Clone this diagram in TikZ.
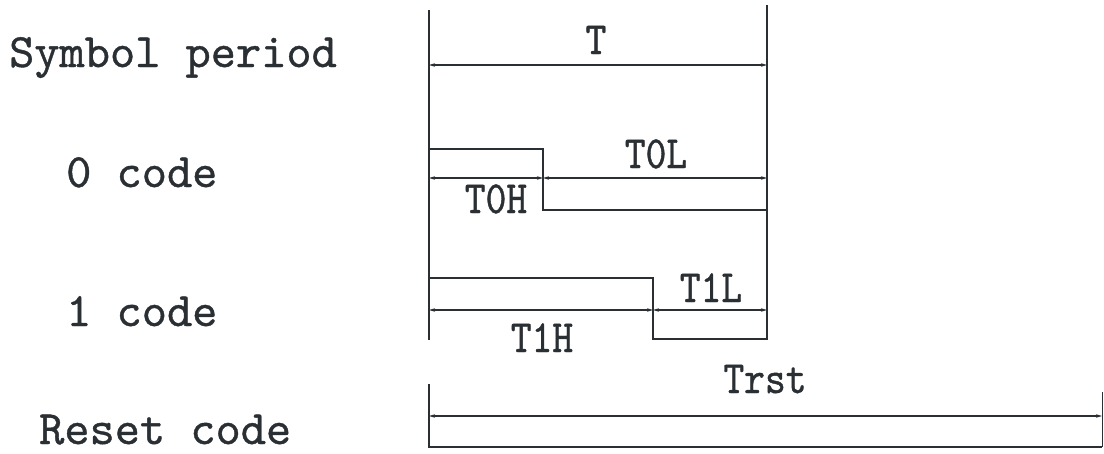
\documentclass[tikz,border=0pt]{standalone}
\usepackage{fontspec}
\usetikzlibrary{arrows.meta}
\definecolor{ink}{HTML}{2A2F34}
\font\rowfnt="[lmmono10-regular.otf]:embolden=0.8" at 48pt
\font\dimfnt="[lmmono10-regular.otf]:embolden=0.9" at 46pt
\tikzset{
  wave/.style={draw=ink, line width=1.9pt},
  dim/.style={draw=ink, line width=1.6pt, {Stealth[length=6pt,width=3.5pt]}-{Stealth[length=6pt,width=3.5pt]}},
  rowlabel/.style={inner sep=0pt, anchor=base west, text=ink, font=\rowfnt},
  dimlabel/.style={inner sep=0pt, anchor=base, text=ink, font=\dimfnt}
}
\newcommand{\cond}[1]{\scalebox{0.86}[1]{#1}}
\begin{document}
\begin{tikzpicture}[x=1pt,y=-1pt]
\useasboundingbox (0,0) rectangle (1104,453);
% coordinates
\coordinate (Ltop) at (429,10);
\coordinate (Lbot) at (429,340);
\coordinate (Rtop) at (767,5);
\coordinate (Rbot) at (767,340);
\coordinate (TdA) at (429,65);
\coordinate (TdB) at (767,65);
% 0 code
\coordinate (z0) at (429,149);
\coordinate (z1) at (543,149);
\coordinate (z2) at (543,210);
\coordinate (z3) at (767,210);
\coordinate (zdA) at (429,178);
\coordinate (zdM) at (543,178);
\coordinate (zdB) at (767,178);
% 1 code
\coordinate (o0) at (429,278);
\coordinate (o1) at (653,278);
\coordinate (o2) at (653,339);
\coordinate (o3) at (767,339);
\coordinate (odA) at (429,310);
\coordinate (odM) at (653,310);
\coordinate (odB) at (767,310);
% reset
\coordinate (r0) at (429,384);
\coordinate (r1) at (429,447);
\coordinate (r2) at (1102,447);
\coordinate (r3) at (1102,392);
\coordinate (rdA) at (429,416);
\coordinate (rdB) at (1102,416);

% row labels
\node[rowlabel] (lsym) at (9,67) {Symbol period};
\node[rowlabel] (lzero) at (66,187) {0 code};
\node[rowlabel] (lone) at (66,326) {1 code};
\node[rowlabel] (lrst) at (39,444) {Reset code};

% frame
\draw[wave] (Ltop) -- (Lbot);
\draw[wave] (Rtop) -- (Rbot);
\draw[dim] (TdA) -- (TdB);
\node[dimlabel] (lT) at (596,54) {\cond{T}};

% 0 code
\draw[wave] (z0) -- (z1) -- (z2) -- (z3);
\draw[dim] (zdA) -- (zdM);
\draw[dim] (zdM) -- (zdB);
\node[dimlabel] (lT0L) at (656,168) {\cond{T0L}};
\node[dimlabel] (lT0H) at (496,213) {\cond{T0H}};

% 1 code
\draw[wave] (o0) -- (o1) -- (o2) -- (o3);
\draw[dim] (odA) -- (odM);
\draw[dim] (odM) -- (odB);
\node[dimlabel] (lT1L) at (711,302) {\cond{T1L}};
\node[dimlabel] (lT1H) at (542,352) {\cond{T1H}};

% reset
\draw[wave] (r0) -- (r1) -- (r2);
\draw[draw=ink, line width=1pt] (r3) -- (r2);
\draw[dim] (rdA) -- (rdB);
\node[dimlabel] (lTrst) at (765,393) {\cond{Trst}};
\end{tikzpicture}
\end{document}
